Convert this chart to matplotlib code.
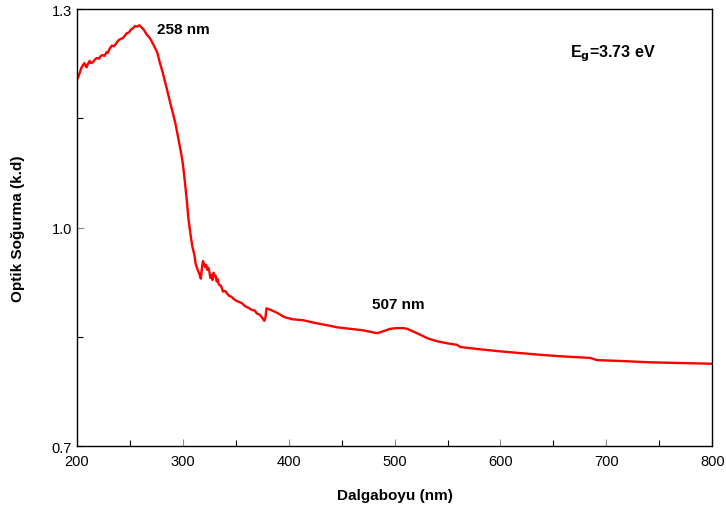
import matplotlib
matplotlib.use('Agg')
import matplotlib.pyplot as plt
from matplotlib.ticker import MultipleLocator, FixedLocator

plt.rcParams['font.family'] = ['Liberation Sans', 'DejaVu Sans']

# wavelength (nm) and optical absorbance (a.u.)
wavelength = [200, 201, 203, 204, 206, 207, 209, 210, 212, 213, 215, 217, 219, 221,
              222, 224, 226, 228, 229, 231, 233, 235, 237, 239, 241, 243, 245, 247,
              249, 251, 253, 255, 257, 259, 261, 263, 266, 269, 272, 274, 276, 278,
              281, 285, 288, 291, 293, 295, 297, 299, 300, 302, 304, 305, 307, 309,
              311, 312, 314, 316, 317, 318, 319, 320, 321, 322, 323, 324, 325, 326,
              327, 328, 329, 330, 331, 332, 333, 334, 336, 338, 340, 342, 344, 346,
              348, 351, 353, 356, 358, 360, 363, 365, 368, 370, 372, 374, 375, 376,
              377, 378, 379, 383, 389, 396, 404, 413, 425, 436, 446, 458, 470, 480,
              484, 490, 496, 502, 508, 512, 518, 524, 531, 540, 550, 559, 562, 580,
              600, 616, 640, 660, 685, 691, 710, 741, 770, 800]
absorbance = [1.204, 1.206, 1.214, 1.219, 1.224, 1.226, 1.220, 1.224, 1.229, 1.226,
              1.227, 1.231, 1.233, 1.232, 1.235, 1.237, 1.236, 1.241, 1.240, 1.246,
              1.250, 1.249, 1.253, 1.257, 1.259, 1.260, 1.263, 1.267, 1.268, 1.272,
              1.274, 1.277, 1.276, 1.278, 1.275, 1.272, 1.265, 1.260, 1.252, 1.246,
              1.240, 1.228, 1.213, 1.190, 1.172, 1.155, 1.143, 1.128, 1.113, 1.097,
              1.088, 1.062, 1.034, 1.016, 0.993, 0.974, 0.962, 0.951, 0.942, 0.935,
              0.930, 0.944, 0.954, 0.950, 0.946, 0.949, 0.942, 0.945, 0.940, 0.931,
              0.935, 0.928, 0.938, 0.933, 0.934, 0.926, 0.929, 0.922, 0.920, 0.912,
              0.913, 0.909, 0.906, 0.905, 0.902, 0.899, 0.898, 0.896, 0.893, 0.891,
              0.889, 0.887, 0.886, 0.882, 0.881, 0.878, 0.876, 0.874, 0.872, 0.876,
              0.889, 0.887, 0.883, 0.877, 0.874, 0.873, 0.869, 0.866, 0.863, 0.861,
              0.859, 0.856, 0.855, 0.858, 0.861, 0.862, 0.862, 0.861, 0.857, 0.853,
              0.848, 0.844, 0.841, 0.839, 0.836, 0.833, 0.830, 0.828, 0.825, 0.823,
              0.821, 0.818, 0.817, 0.815, 0.814, 0.813]

fig = plt.figure(figsize=(7.26, 5.10), dpi=100)
ax = fig.add_axes([0.106, 0.1235, 0.875, 0.8565])

ax.plot(wavelength, absorbance, color='#ff0000', linewidth=1.7)

ax.set_xlim(200, 800)
ax.set_ylim(0.7, 1.3)
ax.xaxis.set_major_locator(MultipleLocator(100))
ax.xaxis.set_minor_locator(MultipleLocator(50))
ax.set_yticks([0.7, 1.0, 1.3])
ax.set_yticklabels(['0.7', '1.0', '1.3'])
ax.yaxis.set_minor_locator(FixedLocator([0.85, 1.15]))

ax.tick_params(which='both', direction='in', labelsize=10.5)
ax.tick_params(which='major', length=5, color='0.55', width=0.8)
ax.tick_params(which='minor', length=4, color='black', width=0.8)
ax.tick_params(axis='x', pad=6)

for sp in ax.spines.values():
    sp.set_linewidth(1.0)

ax.set_xlabel('Dalgaboyu (nm)', fontsize=11, fontweight='bold', labelpad=14)
ax.set_ylabel('Optik Soğurma (k.d)', fontsize=11, fontweight='bold', labelpad=19)

ax.text(276, 1.273, '258 nm', fontsize=11, fontweight='bold', va='center')
ax.text(479, 0.895, '507 nm', fontsize=11, fontweight='bold', va='center')
ax.text(666, 1.240, r'E$_\mathbf{g}$=3.73 eV', fontsize=11.5, fontweight='bold', va='center')

fig.savefig('out.png', dpi=100)
